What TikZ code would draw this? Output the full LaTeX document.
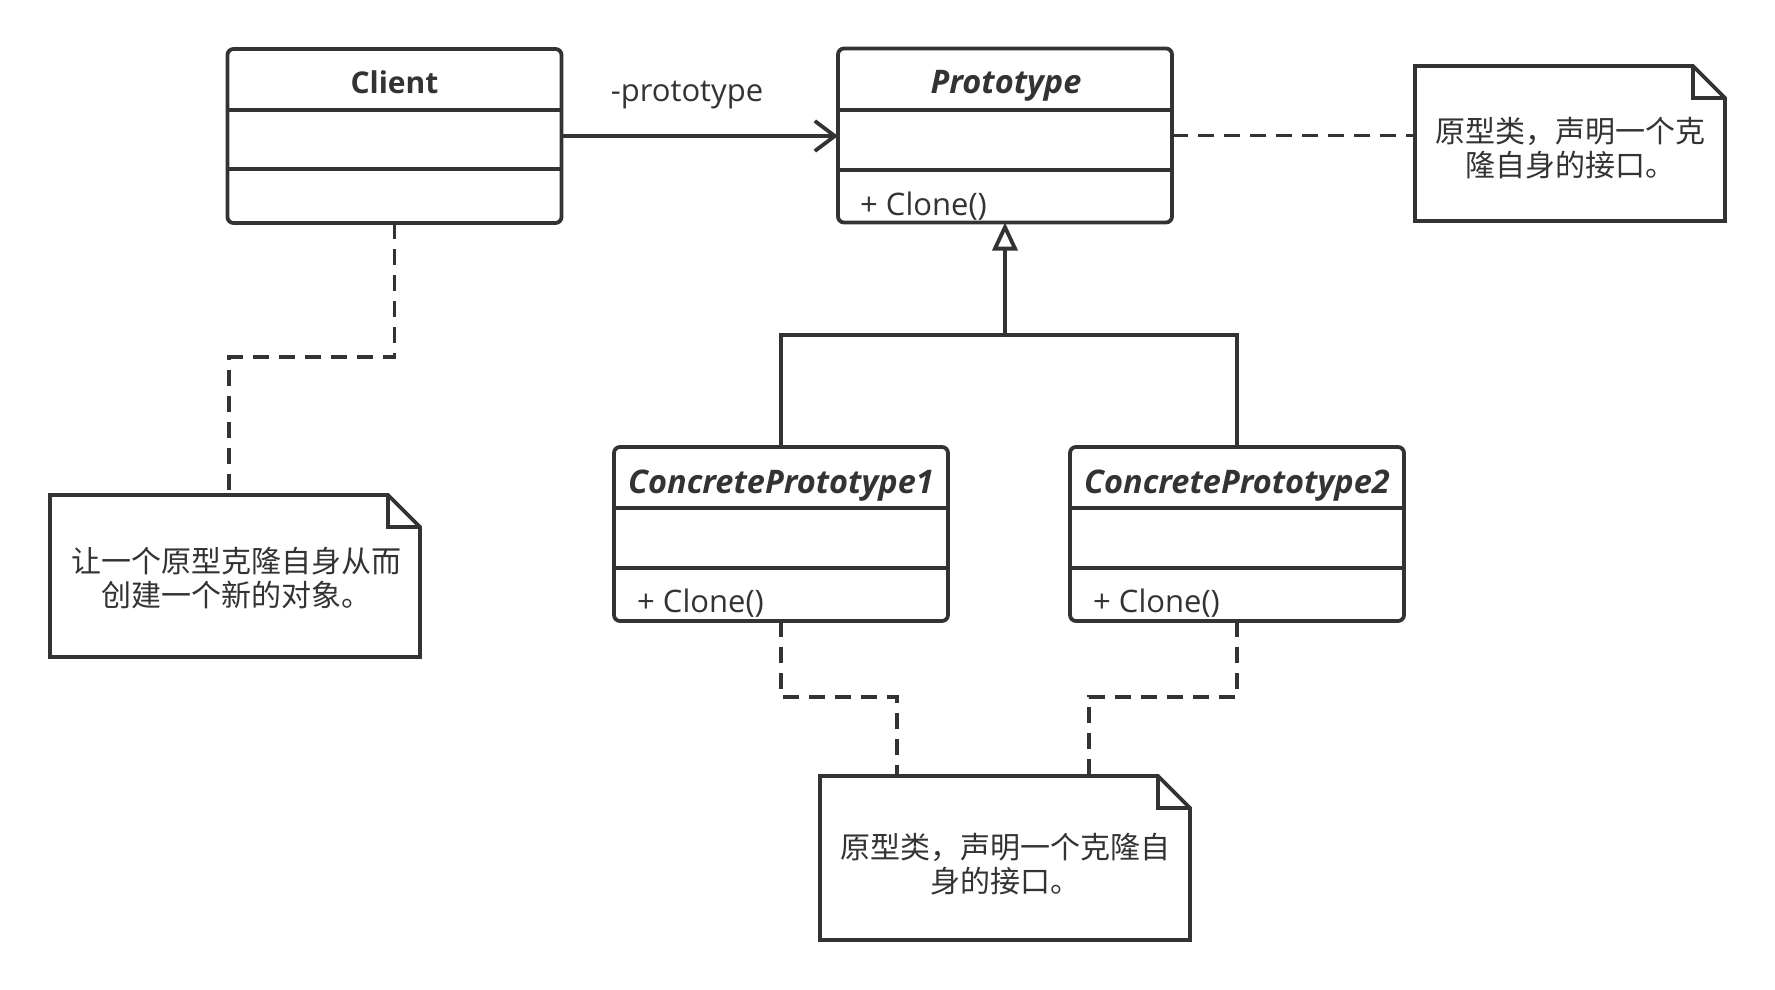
\documentclass[tikz,border=0pt]{standalone}
\usepackage{fontspec}
\setmainfont{Open Sans}
\newfontfamily\cjkf{Noto Sans CJK SC}
\usetikzlibrary{arrows.meta,calc}
\definecolor{ln}{HTML}{333333}
\tikzset{
 lw/.style={line width=3.8pt, draw=ln},
 cls/.style={lw, rounded corners=6pt, minimum width=334pt, minimum height=174pt, inner sep=0pt, outer sep=0pt},
 notebox/.style={inner sep=0pt, outer sep=0pt},
 ttl/.style={text=ln, font=\fontsize{30}{36}\selectfont\bfseries, anchor=base, inner sep=0pt},
 ttli/.style={ttl, font=\fontsize{32.5}{38}\selectfont\bfseries\itshape},
 meth/.style={text=ln, font=\fontsize{31}{36}\selectfont, anchor=base west, inner sep=0pt},
 lbltext/.style={text=ln, font=\fontsize{31}{36}\selectfont, anchor=base, inner sep=0pt},
 cjktext/.style={text=ln, font=\cjkf\fontsize{30}{34}\selectfont, align=center, inner sep=0pt},
 dashln/.style={lw, dash pattern=on 16pt off 10pt},
}
\begin{document}
\begin{tikzpicture}[x=1pt,y=-1pt]
\fill[white] (0,0) rectangle (1775,990);
\useasboundingbox (0,0) rectangle (1775,990);

% classes
\node[cls] (client) at (394.5,136) {};
\node[cls] (proto) at (1005,135.5) {};
\node[cls] (cp1) at (781,534) {};
\node[cls] (cp2) at (1237,534) {};

\draw[lw] (client.west |- 0,110) -- (client.east |- 0,110);
\draw[lw] (client.west |- 0,169) -- (client.east |- 0,169);
\draw[lw] (proto.west |- 0,110) -- (proto.east |- 0,110);
\draw[lw] (proto.west |- 0,170) -- (proto.east |- 0,170);
\draw[lw] (cp1.west |- 0,508) -- (cp1.east |- 0,508);
\draw[lw] (cp1.west |- 0,568) -- (cp1.east |- 0,568);
\draw[lw] (cp2.west |- 0,508) -- (cp2.east |- 0,508);
\draw[lw] (cp2.west |- 0,568) -- (cp2.east |- 0,568);

\node[ttl] (clientt) at (394.5,93) {Client};
\node[ttli] (protot) at (1006,93) {Prototype};
\node[ttli] (cp1t) at (781,493) {ConcretePrototype1};
\node[ttli] (cp2t) at (1237,493) {ConcretePrototype2};

\node[meth] (protom) at (860,215) {+ Clone()};
\node[meth] (cp1m) at (637,612) {+ Clone()};
\node[meth] (cp2m) at (1093,612) {+ Clone()};

% notes
\node[notebox, minimum width=310pt, minimum height=155pt] (n1) at (1570,143.5) {};
\node[notebox, minimum width=370pt, minimum height=162pt] (n2) at (235,576) {};
\node[notebox, minimum width=370pt, minimum height=164pt] (n3) at (1005,858) {};
\foreach \n in {n1,n2,n3}{
  \draw[lw] (\n.north west) -- ($(\n.north east)+(-32,0)$) -- ($(\n.north east)+(0,32)$) -- (\n.south east) -- (\n.south west) -- cycle;
  \draw[lw] ($(\n.north east)+(-32,0)$) |- ($(\n.north east)+(0,32)$);
}
\node[cjktext] (n1t) at (1570,148) {原型类，声明一个克\\隆自身的接口。};
\node[cjktext] (n2t) at (236,578) {让一个原型克隆自身从而\\创建一个新的对象。};
\node[cjktext] (n3t) at (1005,864) {原型类，声明一个克隆自\\身的接口。};

% connectors
\draw[lw, -{Straight Barb[length=20pt,width=30pt]}] (client.east) -- (client.east -| proto.west);
\node[lbltext] (lbl) at (687,102) {-prototype};

\coordinate (j) at (1005,335);
\draw[lw] (cp1.north) |- (j) -| (cp2.north);
\draw[lw, -{Triangle[open, length=28pt, width=25pt]}] (j) -- (proto.south);

\coordinate (c1) at (229,357);
\draw[dashln] (client.south) |- (c1) -- (c1 |- n2.north);
\draw[dashln] (proto.east) -- (proto.east -| n1.west);
\coordinate (d1) at (897,697);
\coordinate (d2) at (1089,697);
\draw[dashln] (cp1.south) |- (d1) -- (d1 |- n3.north);
\draw[dashln] (cp2.south) |- (d2) -- (d2 |- n3.north);
\end{tikzpicture}
\end{document}
